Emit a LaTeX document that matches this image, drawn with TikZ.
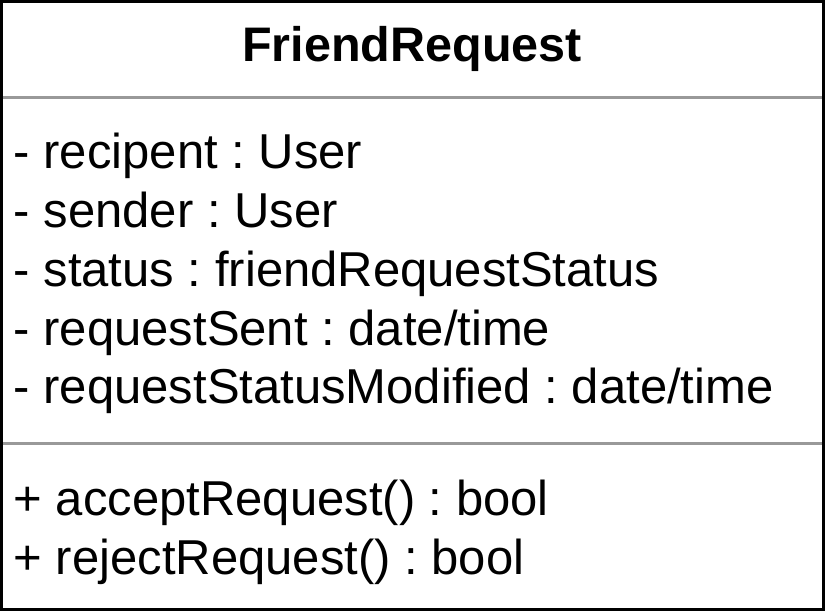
\documentclass[tikz,border=0pt]{standalone}
\usepackage{fontspec}
\setmainfont{Liberation Sans}
\frenchspacing
\begin{document}
\begin{tikzpicture}[x=1pt,y=-1pt,
  member/.style={anchor=base west,inner sep=0pt,font=\fontsize{49}{58}\selectfont},
  titletext/.style={anchor=base,inner sep=0pt,font=\fontsize{48.5}{58}\selectfont\bfseries},
  sepline/.style={draw=black!40,line width=3pt},
  outerbox/.style={draw=black,line width=3pt}]
\useasboundingbox (0,0) rectangle (825,613);
\fill[white] (0,0) rectangle (825,613);
\draw[sepline] (1.5,97) -- (823,97);
\draw[sepline] (1.5,443) -- (823,443);
\draw[outerbox] (1.5,1.5) rectangle (823,609.5);
\node[titletext] (title) at (412,61) {FriendRequest};
\node[member] (a1) at (13.5,168.5) {- recipent : User};
\node[member] (a2) at (13.5,227.5) {- sender : User};
\node[member] (a3) at (13.5,286) {- status : friendRequestStatus};
\node[member] (a4) at (13.5,345) {- requestSent : date/time};
\node[member] (a5) at (13.5,403.5) {- requestStatusModified : date/time};
\node[member] (m1) at (13.5,515) {+ acceptRequest() : bool};
\node[member] (m2) at (13.5,574.5) {+ rejectRequest() : bool};
\end{tikzpicture}
\end{document}
